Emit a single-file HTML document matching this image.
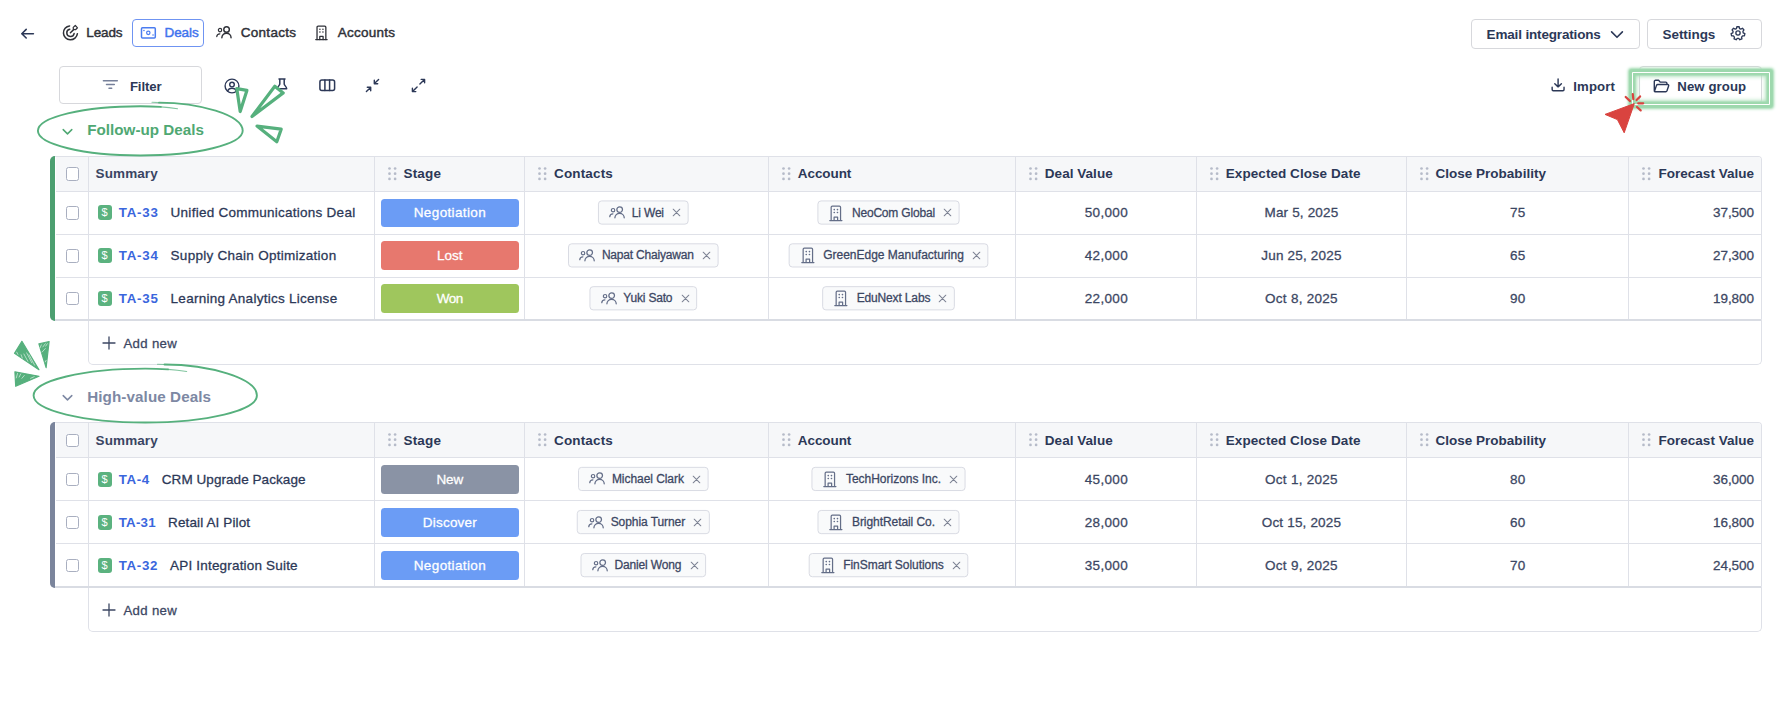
<!DOCTYPE html><html lang="en"><head><meta charset="utf-8"><title>Deals</title><style>
html,body{margin:0;padding:0;background:#fff}
body{width:1778px;height:718px;position:relative;overflow:hidden;font-family:"Liberation Sans", sans-serif;}
.t{position:absolute;white-space:nowrap;line-height:1;-webkit-text-stroke:0.280px currentColor;}
.b{-webkit-text-stroke:0}
.m{-webkit-text-stroke-width:0.450px}
.ic{position:absolute;overflow:visible}
.btn{position:absolute;box-sizing:border-box;border:1px solid #d7d8dc;border-radius:4px;background:#fff}
.tab{position:absolute;box-sizing:border-box;border:1.400px solid #6f94f2;border-radius:4px;background:#fff}
.glow{position:absolute;box-sizing:border-box;border:1.500px solid #fff;border-radius:1px;box-shadow:0 0 1.500px 2.500px #9dd8ad,0 0 3px 3.600px #a6ddb5,inset 0 0 1.500px 2.500px #9dd8ad,inset 0 0 4px 3.600px #b2e2bf;}
.tbl{position:absolute;box-sizing:border-box;border:1px solid #dfe1e8;border-bottom:2px solid #d9dce3;border-radius:5px 4px 0 5px;background:#fff}
.bar{position:absolute;width:5.800px;border-radius:5px 0 0 5px}
.thead{position:absolute;background:#f6f7f9;border-radius:0 3px 0 0}
.hl{position:absolute;height:1px;background:#dfe1e8}
.vl{position:absolute;width:1px;background:#dfe1e8}
.addnew{position:absolute;box-sizing:border-box;border:1px solid #dfe1e8;border-top:none;border-radius:0 0 5px 5px;background:#fff}
.cb{position:absolute;box-sizing:border-box;width:13.400px;height:13.400px;border:1.300px solid #a9afc0;border-radius:2.500px;background:#fff}
.badge{position:absolute;width:14px;height:14.700px;border-radius:3px;background:#5bb27f;color:#fff;font-size:11px;line-height:14.600px;text-align:center;font-weight:400}
.badge span{display:block}
.pill{position:absolute;width:138.800px;height:28.600px;border-radius:3.500px}
.chip{position:absolute;box-sizing:border-box;height:24px;border:1px solid #dfe1e8;border-radius:3.500px;background:#f9fafb}
</style></head><body><svg class="ic" style="left:20px;top:27px" width="16" height="14" viewBox="0 0 16 14" fill="none" stroke="#2c3857" stroke-width="1.6" stroke-linecap="round" stroke-linejoin="round" ><path d="M13.4 6.700H1.900M6.200 2.400 1.800 6.700l4.400 4.300"/></svg><svg class="ic" style="left:60px;top:22px" width="20" height="20" viewBox="60 22 20 20" fill="none" stroke="#2f3138" stroke-width="1.500" stroke-linecap="round" stroke-linejoin="round"><path d="M69.600 25.900A7 7 0 1 0 77.400 33.700"/><path d="M69.800 29.200A3.700 3.700 0 1 0 74.100 33.600"/><path d="M70.400 32.700 73.900 29.400"/><path d="M75.300 25.500l2.200 2.300-2 1.900-2.100-.2-.2-2.100z" stroke-width="1.200"/></svg><div class="tab" style="left:132px;top:18.500px;width:71.800px;height:28.300px"></div><svg class="ic" style="left:139px;top:25px" width="19" height="16" viewBox="139 25 19 16" fill="none" stroke="#4a7cf0" stroke-width="1.500" stroke-linecap="round" stroke-linejoin="round"><rect x="141.500" y="27.700" width="13.800" height="10.300" rx="1"/><circle cx="148.300" cy="32.850" r="1.700" stroke-width="1.200"/><path d="M143.900 30.600h.1M153 35.100h.1" stroke-width="1.500"/></svg><svg class="ic" style="left:216.3px;top:25.8px" width="15.36" height="12.48" viewBox="0 0 16 13" fill="none" stroke="#2f3138" stroke-width="1.5" stroke-linecap="round" stroke-linejoin="round" ><circle cx="11" cy="3.7" r="2.9"/><path d="M6.1 12.2c0-2.7 2.100-4.600 4.800-4.600s4.800 1.900 4.800 4.600"/><circle cx="4.200" cy="4.300" r="1.750" stroke-width="1.200"/><path d="M0.800 11c.1-1.700 1.200-2.800 3.200-2.900" stroke-width="1.300"/></svg><svg class="ic" style="left:315.2px;top:25.1px" width="12.88" height="15.64" viewBox="0 0 14 17" fill="none" stroke="#2f3138" stroke-width="1.4" stroke-linecap="round" stroke-linejoin="round" ><path d="M2.2 15.8V2.4c0-.7.5-1.2 1.2-1.2h7.2c.7 0 1.2.5 1.2 1.2v13.4"/><path d="M0.8 15.9h12.4"/><path d="M5.2 15.8v-3.4h3.6v3.4"/><path d="M5.300 4.700h.1M8.600 4.700h.1M5.300 7.600h.1M8.600 7.600h.1" stroke-width="1.600"/></svg><div class="btn" style="left:1470.5px;top:18.8px;width:169px;height:30px"></div><svg class="ic" style="left:1610px;top:30px" width="15" height="9.5" viewBox="0 0 15 9.5" fill="none" stroke="#2c3857" stroke-width="1.6" stroke-linecap="round" stroke-linejoin="round" ><path d="M1.600 1.900 7 7.300l5.400-5.400"/></svg><div class="btn" style="left:1647.4px;top:18.8px;width:114.3px;height:30px"></div><svg class="ic" style="left:1730.4px;top:25.2px" width="16" height="16" viewBox="0 0 24 24" fill="none" stroke="#2c3857" stroke-width="2.0" stroke-linecap="round" stroke-linejoin="round" ><circle cx="12" cy="12" r="3.2"/><path d="M10.3 2.6h3.4l.6 2.7 1.9.9 2.5-1.3 2.2 2.5-1.5 2.3.4 2.1 2.5 1.2-.7 3.2-2.8.2-1.4 1.7.5 2.7-3.1 1.3-1.8-2.1h-2l-1.8 2.1-3.1-1.3.5-2.7-1.4-1.7-2.8-.2-.7-3.2 2.5-1.2.4-2.1-1.5-2.3 2.2-2.5 2.5 1.300 1.9-.9z"/></svg><div class="btn" style="left:59px;top:66px;width:142.5px;height:38px"></div><svg class="ic" style="left:102px;top:79px" width="17" height="11" viewBox="0 0 17 11" fill="none" stroke="#76809a" stroke-width="1.5" stroke-linecap="round" stroke-linejoin="round" ><path d="M1.400 1.700h13.900M4.500 5.400h7.800M7 9.250h2.700"/></svg><svg class="ic" style="left:224px;top:77.5px" width="16" height="16" viewBox="0 0 16 16" fill="none" stroke="#2c3857" stroke-width="1.4" stroke-linecap="round" stroke-linejoin="round" ><circle cx="8" cy="8" r="6.900"/><circle cx="8" cy="6.600" r="2.300"/><path d="M3.600 13.100c.8-1.900 2.400-2.900 4.400-2.900s3.600 1 4.400 2.900"/></svg><svg class="ic" style="left:275.7px;top:77.6px" width="12" height="12.5" viewBox="0 0 12 12.5" fill="none" stroke="#2c3857" stroke-width="1.5" stroke-linecap="round" stroke-linejoin="round" ><path d="M3 1.100h6M3.800 1.300v4.700c0 1.500-2.300 2.400-2.500 4.700h9.400c-.2-2.300-2.500-3.200-2.500-4.700V1.300"/></svg><svg class="ic" style="left:319px;top:78.9px" width="16.5" height="12.5" viewBox="0 0 16.500 12.500" fill="none" stroke="#2c3857" stroke-width="1.5" stroke-linecap="round" stroke-linejoin="round" ><rect x="0.9" y="0.9" width="14.700" height="10.700" rx="2"/><path d="M5.900 1v10.500M10.600 1v10.500"/></svg><svg class="ic" style="left:364.9px;top:77.8px" width="15" height="15" viewBox="0 0 15 15" fill="none" stroke="#2c3857" stroke-width="1.4" stroke-linecap="round" stroke-linejoin="round" ><path d="M13.600 1.400 9.400 5.600M9.300 2.300v3.400h3.400M1.400 13.600l4.200-4.200M5.700 12.700V9.300H2.300"/></svg><svg class="ic" style="left:411.2px;top:77.8px" width="15" height="15" viewBox="0 0 15 15" fill="none" stroke="#2c3857" stroke-width="1.4" stroke-linecap="round" stroke-linejoin="round" ><path d="M8.900 6.100 13.500 1.500M10.200 1.400h3.400v3.400M6.100 8.900 1.500 13.500M1.400 10.200v3.400h3.400"/></svg><svg class="ic" style="left:1550.9px;top:78.1px" width="14.2" height="13.7" viewBox="0 0 15 14.500" fill="none" stroke="#2c3857" stroke-width="1.5" stroke-linecap="round" stroke-linejoin="round" ><path d="M7.500 1v8.200M4 6l3.500 3.400L11 6M1.200 9.700v2.600c0 .7.500 1.200 1.200 1.200h10.200c.7 0 1.200-.5 1.200-1.200V9.700"/></svg><div class="btn" style="left:1639px;top:66px;width:122.700px;height:38px"></div><div class="glow" style="left:1632px;top:71.600px;width:138.300px;height:33.200px"></div><svg class="ic" style="left:1653.2px;top:78.5px" width="17" height="14" viewBox="0 0 17 14" fill="none" stroke="#2c3857" stroke-width="1.4" stroke-linecap="round" stroke-linejoin="round" ><path d="M1.300 11.600V2.500c0-.7.500-1.200 1.200-1.200h3.100l1.600 1.800h5.500c.7 0 1.200.5 1.200 1.200v1.100"/><path d="M1.400 12.600 3.500 6.400c.2-.5.600-.9 1.200-.9h9.900c.8 0 1.300.7 1 1.500l-1.600 4.800c-.2.500-.6.900-1.200.9H2.400c-.6 0-1.100-.4-1-.1z"/></svg><svg class="ic" style="left:1598px;top:84px" width="52" height="54" viewBox="1598 84 52 54"><path d="M1634.300 103.600 1605 114.400l12.400 5.200 6.800 13.200z" fill="#d9433f" stroke="#d9433f" stroke-width="1" stroke-linejoin="round"/><g stroke="#d9433f" stroke-width="2.200" stroke-linecap="round"><path d="M1625.700 97l4.400 4.100"/><path d="M1632.800 94.100l.5 5"/><path d="M1640.100 96.400l-3.500 3.700"/><path d="M1638.200 103.300h5"/><path d="M1637 107l3.700 3.400"/></g></svg><svg class="ic" style="left:61.6px;top:127.7px" width="11" height="8" viewBox="0 0 11 8" fill="none" stroke="#4fa873" stroke-width="1.5" stroke-linecap="round" stroke-linejoin="round" ><path d="M1.200 1.600 5.500 5.900l4.300-4.300"/></svg><svg class="ic" style="left:61.6px;top:394.1px" width="11" height="8" viewBox="0 0 11 8" fill="none" stroke="#7d88a3" stroke-width="1.5" stroke-linecap="round" stroke-linejoin="round" ><path d="M1.200 1.600 5.500 5.900l4.300-4.300"/></svg><div class="tbl" style="left:50px;top:155.80px;width:1712px;height:165.25px"></div><div class="bar" style="left:49.700px;top:155.80px;height:165.05px;background:#4c9f70"></div><div class="thead" style="left:55.500px;top:156.80px;width:1705.5px;height:34.65px"></div><div class="hl" style="left:55.500px;top:190.95px;width:1706.0px"></div><div class="hl" style="left:55.500px;top:233.82px;width:1706.0px"></div><div class="hl" style="left:55.500px;top:276.68px;width:1706.0px"></div><div class="vl" style="left:88.00px;top:156.80px;height:162.25px"></div><div class="vl" style="left:373.80px;top:156.80px;height:162.25px"></div><div class="vl" style="left:523.90px;top:156.80px;height:162.25px"></div><div class="vl" style="left:767.70px;top:156.80px;height:162.25px"></div><div class="vl" style="left:1015.00px;top:156.80px;height:162.25px"></div><div class="vl" style="left:1195.80px;top:156.80px;height:162.25px"></div><div class="vl" style="left:1405.80px;top:156.80px;height:162.25px"></div><div class="vl" style="left:1628.00px;top:156.80px;height:162.25px"></div><div class="addnew" style="left:87.800px;top:321.05px;width:1674.2px;height:43.900px"></div><svg class="ic" style="left:102.4px;top:336.05px" width="14" height="14" viewBox="0 0 14 14" fill="none" stroke="#3c4763" stroke-width="1.3" stroke-linecap="round" stroke-linejoin="round" ><path d="M7 1v12M1 7h12"/></svg><div class="cb" style="left:65.500px;top:167.275px"></div><svg class="ic" style="left:387.7px;top:167.075px" width="9" height="14" viewBox="0 0 9 14" fill="#b6bbc9"><circle cx="1.5" cy="1.5" r="1.350"/><circle cx="1.5" cy="6.7" r="1.350"/><circle cx="1.5" cy="11.9" r="1.350"/><circle cx="7.1" cy="1.5" r="1.350"/><circle cx="7.1" cy="6.7" r="1.350"/><circle cx="7.1" cy="11.9" r="1.350"/></svg><svg class="ic" style="left:537.7px;top:167.075px" width="9" height="14" viewBox="0 0 9 14" fill="#b6bbc9"><circle cx="1.5" cy="1.5" r="1.350"/><circle cx="1.5" cy="6.7" r="1.350"/><circle cx="1.5" cy="11.9" r="1.350"/><circle cx="7.1" cy="1.5" r="1.350"/><circle cx="7.1" cy="6.7" r="1.350"/><circle cx="7.1" cy="11.9" r="1.350"/></svg><svg class="ic" style="left:781.5px;top:167.075px" width="9" height="14" viewBox="0 0 9 14" fill="#b6bbc9"><circle cx="1.5" cy="1.5" r="1.350"/><circle cx="1.5" cy="6.7" r="1.350"/><circle cx="1.5" cy="11.9" r="1.350"/><circle cx="7.1" cy="1.5" r="1.350"/><circle cx="7.1" cy="6.7" r="1.350"/><circle cx="7.1" cy="11.9" r="1.350"/></svg><svg class="ic" style="left:1028.7px;top:167.075px" width="9" height="14" viewBox="0 0 9 14" fill="#b6bbc9"><circle cx="1.5" cy="1.5" r="1.350"/><circle cx="1.5" cy="6.7" r="1.350"/><circle cx="1.5" cy="11.9" r="1.350"/><circle cx="7.1" cy="1.5" r="1.350"/><circle cx="7.1" cy="6.7" r="1.350"/><circle cx="7.1" cy="11.9" r="1.350"/></svg><svg class="ic" style="left:1209.6px;top:167.075px" width="9" height="14" viewBox="0 0 9 14" fill="#b6bbc9"><circle cx="1.5" cy="1.5" r="1.350"/><circle cx="1.5" cy="6.7" r="1.350"/><circle cx="1.5" cy="11.9" r="1.350"/><circle cx="7.1" cy="1.5" r="1.350"/><circle cx="7.1" cy="6.7" r="1.350"/><circle cx="7.1" cy="11.9" r="1.350"/></svg><svg class="ic" style="left:1419.6px;top:167.075px" width="9" height="14" viewBox="0 0 9 14" fill="#b6bbc9"><circle cx="1.5" cy="1.5" r="1.350"/><circle cx="1.5" cy="6.7" r="1.350"/><circle cx="1.5" cy="11.9" r="1.350"/><circle cx="7.1" cy="1.5" r="1.350"/><circle cx="7.1" cy="6.7" r="1.350"/><circle cx="7.1" cy="11.9" r="1.350"/></svg><svg class="ic" style="left:1642.2px;top:167.075px" width="9" height="14" viewBox="0 0 9 14" fill="#b6bbc9"><circle cx="1.5" cy="1.5" r="1.350"/><circle cx="1.5" cy="6.7" r="1.350"/><circle cx="1.5" cy="11.9" r="1.350"/><circle cx="7.1" cy="1.5" r="1.350"/><circle cx="7.1" cy="6.7" r="1.350"/><circle cx="7.1" cy="11.9" r="1.350"/></svg><div class="cb" style="left:65.500px;top:206.28333333333336px"></div><div class="badge" style="left:97.600px;top:205.43px"><span>$</span></div><div class="pill" style="left:380.500px;top:198.58px;background:#6b9cf5"></div><svg class="ic" style="left:596px;top:199px" width="94" height="27" viewBox="596 199 94 27"><rect x="598.45" y="200.93" width="89.70" height="23.20" rx="3.2" fill="#f9fafb" stroke="#d9dbe3" stroke-width="1"/></svg><svg class="ic" style="left:609.05px;top:205.98333333333335px" width="15.52" height="12.61" viewBox="0 0 16 13" fill="none" stroke="#646e88" stroke-width="1.3" stroke-linecap="round" stroke-linejoin="round" ><circle cx="11" cy="3.7" r="2.9"/><path d="M6.1 12.2c0-2.7 2.100-4.600 4.800-4.600s4.800 1.900 4.800 4.600"/><circle cx="4.200" cy="4.300" r="1.750" stroke-width="1.200"/><path d="M0.800 11c.1-1.700 1.200-2.800 3.200-2.900" stroke-width="1.300"/></svg><svg class="ic" style="left:672.05px;top:208.38333333333335px" width="9" height="9" viewBox="0 0 9 9" fill="none" stroke="#7d8394" stroke-width="1.05" stroke-linecap="round" stroke-linejoin="round" ><path d="M1.200 1.200l6.600 6.600M7.800 1.200 1.200 7.800"/></svg><svg class="ic" style="left:816px;top:199px" width="145" height="27" viewBox="816 199 145 27"><rect x="817.90" y="200.93" width="141.20" height="23.20" rx="3.2" fill="#f9fafb" stroke="#d9dbe3" stroke-width="1"/></svg><svg class="ic" style="left:829.25px;top:204.53333333333336px" width="13.719999999999999" height="16.66" viewBox="0 0 14 17" fill="none" stroke="#646e88" stroke-width="1.25" stroke-linecap="round" stroke-linejoin="round" ><path d="M2.2 15.8V2.4c0-.7.5-1.2 1.2-1.2h7.2c.7 0 1.2.5 1.2 1.2v13.4"/><path d="M0.8 15.9h12.4"/><path d="M5.2 15.8v-3.4h3.6v3.4"/><path d="M5.300 4.700h.1M8.600 4.700h.1M5.300 7.600h.1M8.600 7.600h.1" stroke-width="1.600"/></svg><svg class="ic" style="left:942.9999999999999px;top:208.38333333333335px" width="9" height="9" viewBox="0 0 9 9" fill="none" stroke="#7d8394" stroke-width="1.05" stroke-linecap="round" stroke-linejoin="round" ><path d="M1.200 1.200l6.600 6.600M7.800 1.200 1.200 7.800"/></svg><div class="cb" style="left:65.500px;top:249.15000000000003px"></div><div class="badge" style="left:97.600px;top:248.30px"><span>$</span></div><div class="pill" style="left:380.500px;top:241.45px;background:#e7786e"></div><svg class="ic" style="left:567px;top:242px" width="153" height="27" viewBox="567 242 153 27"><rect x="568.50" y="243.80" width="149.60" height="23.20" rx="3.2" fill="#f9fafb" stroke="#d9dbe3" stroke-width="1"/></svg><svg class="ic" style="left:579.1px;top:248.85000000000002px" width="15.52" height="12.61" viewBox="0 0 16 13" fill="none" stroke="#646e88" stroke-width="1.3" stroke-linecap="round" stroke-linejoin="round" ><circle cx="11" cy="3.7" r="2.9"/><path d="M6.1 12.2c0-2.7 2.100-4.600 4.800-4.600s4.800 1.900 4.800 4.600"/><circle cx="4.200" cy="4.300" r="1.750" stroke-width="1.200"/><path d="M0.800 11c.1-1.700 1.200-2.800 3.200-2.900" stroke-width="1.300"/></svg><svg class="ic" style="left:702.0px;top:251.25000000000003px" width="9" height="9" viewBox="0 0 9 9" fill="none" stroke="#7d8394" stroke-width="1.05" stroke-linecap="round" stroke-linejoin="round" ><path d="M1.200 1.200l6.600 6.600M7.800 1.200 1.200 7.800"/></svg><svg class="ic" style="left:787px;top:242px" width="203" height="27" viewBox="787 242 203 27"><rect x="789.15" y="243.80" width="198.70" height="23.20" rx="3.2" fill="#f9fafb" stroke="#d9dbe3" stroke-width="1"/></svg><svg class="ic" style="left:800.5px;top:247.40000000000003px" width="13.719999999999999" height="16.66" viewBox="0 0 14 17" fill="none" stroke="#646e88" stroke-width="1.25" stroke-linecap="round" stroke-linejoin="round" ><path d="M2.2 15.8V2.4c0-.7.5-1.2 1.2-1.2h7.2c.7 0 1.2.5 1.2 1.2v13.4"/><path d="M0.8 15.9h12.4"/><path d="M5.2 15.8v-3.4h3.6v3.4"/><path d="M5.300 4.700h.1M8.600 4.700h.1M5.300 7.600h.1M8.600 7.600h.1" stroke-width="1.600"/></svg><svg class="ic" style="left:971.7499999999999px;top:251.25000000000003px" width="9" height="9" viewBox="0 0 9 9" fill="none" stroke="#7d8394" stroke-width="1.05" stroke-linecap="round" stroke-linejoin="round" ><path d="M1.200 1.200l6.600 6.600M7.800 1.200 1.200 7.800"/></svg><div class="cb" style="left:65.500px;top:292.01666666666665px"></div><div class="badge" style="left:97.600px;top:291.17px"><span>$</span></div><div class="pill" style="left:380.500px;top:284.32px;background:#9fc65d"></div><svg class="ic" style="left:588px;top:285px" width="111" height="27" viewBox="588 285 111 27"><rect x="589.95" y="286.67" width="106.70" height="23.20" rx="3.2" fill="#f9fafb" stroke="#d9dbe3" stroke-width="1"/></svg><svg class="ic" style="left:600.55px;top:291.7166666666667px" width="15.52" height="12.61" viewBox="0 0 16 13" fill="none" stroke="#646e88" stroke-width="1.3" stroke-linecap="round" stroke-linejoin="round" ><circle cx="11" cy="3.7" r="2.9"/><path d="M6.1 12.2c0-2.7 2.100-4.600 4.800-4.600s4.800 1.900 4.800 4.600"/><circle cx="4.200" cy="4.300" r="1.750" stroke-width="1.200"/><path d="M0.800 11c.1-1.700 1.200-2.800 3.200-2.900" stroke-width="1.300"/></svg><svg class="ic" style="left:680.55px;top:294.1166666666667px" width="9" height="9" viewBox="0 0 9 9" fill="none" stroke="#7d8394" stroke-width="1.05" stroke-linecap="round" stroke-linejoin="round" ><path d="M1.200 1.200l6.600 6.600M7.800 1.200 1.200 7.800"/></svg><svg class="ic" style="left:821px;top:285px" width="135" height="27" viewBox="821 285 135 27"><rect x="822.65" y="286.67" width="131.70" height="23.20" rx="3.2" fill="#f9fafb" stroke="#d9dbe3" stroke-width="1"/></svg><svg class="ic" style="left:834.0px;top:290.26666666666665px" width="13.719999999999999" height="16.66" viewBox="0 0 14 17" fill="none" stroke="#646e88" stroke-width="1.25" stroke-linecap="round" stroke-linejoin="round" ><path d="M2.2 15.8V2.4c0-.7.5-1.2 1.2-1.2h7.2c.7 0 1.2.5 1.2 1.2v13.4"/><path d="M0.8 15.9h12.4"/><path d="M5.2 15.8v-3.4h3.6v3.4"/><path d="M5.300 4.700h.1M8.600 4.700h.1M5.300 7.600h.1M8.600 7.600h.1" stroke-width="1.600"/></svg><svg class="ic" style="left:938.2499999999999px;top:294.1166666666667px" width="9" height="9" viewBox="0 0 9 9" fill="none" stroke="#7d8394" stroke-width="1.05" stroke-linecap="round" stroke-linejoin="round" ><path d="M1.200 1.200l6.600 6.600M7.800 1.200 1.200 7.800"/></svg><div class="tbl" style="left:50px;top:422.10px;width:1712px;height:165.95px"></div><div class="bar" style="left:49.700px;top:422.10px;height:165.75px;background:#7b859c"></div><div class="thead" style="left:55.500px;top:423.10px;width:1705.5px;height:34.65px"></div><div class="hl" style="left:55.500px;top:457.25px;width:1706.0px"></div><div class="hl" style="left:55.500px;top:500.35px;width:1706.0px"></div><div class="hl" style="left:55.500px;top:543.45px;width:1706.0px"></div><div class="vl" style="left:88.00px;top:423.10px;height:162.95px"></div><div class="vl" style="left:373.80px;top:423.10px;height:162.95px"></div><div class="vl" style="left:523.90px;top:423.10px;height:162.95px"></div><div class="vl" style="left:767.70px;top:423.10px;height:162.95px"></div><div class="vl" style="left:1015.00px;top:423.10px;height:162.95px"></div><div class="vl" style="left:1195.80px;top:423.10px;height:162.95px"></div><div class="vl" style="left:1405.80px;top:423.10px;height:162.95px"></div><div class="vl" style="left:1628.00px;top:423.10px;height:162.95px"></div><div class="addnew" style="left:87.800px;top:588.05px;width:1674.2px;height:43.900px"></div><svg class="ic" style="left:102.4px;top:603.05px" width="14" height="14" viewBox="0 0 14 14" fill="none" stroke="#3c4763" stroke-width="1.3" stroke-linecap="round" stroke-linejoin="round" ><path d="M7 1v12M1 7h12"/></svg><div class="cb" style="left:65.500px;top:433.575px"></div><svg class="ic" style="left:387.7px;top:433.375px" width="9" height="14" viewBox="0 0 9 14" fill="#b6bbc9"><circle cx="1.5" cy="1.5" r="1.350"/><circle cx="1.5" cy="6.7" r="1.350"/><circle cx="1.5" cy="11.9" r="1.350"/><circle cx="7.1" cy="1.5" r="1.350"/><circle cx="7.1" cy="6.7" r="1.350"/><circle cx="7.1" cy="11.9" r="1.350"/></svg><svg class="ic" style="left:537.7px;top:433.375px" width="9" height="14" viewBox="0 0 9 14" fill="#b6bbc9"><circle cx="1.5" cy="1.5" r="1.350"/><circle cx="1.5" cy="6.7" r="1.350"/><circle cx="1.5" cy="11.9" r="1.350"/><circle cx="7.1" cy="1.5" r="1.350"/><circle cx="7.1" cy="6.7" r="1.350"/><circle cx="7.1" cy="11.9" r="1.350"/></svg><svg class="ic" style="left:781.5px;top:433.375px" width="9" height="14" viewBox="0 0 9 14" fill="#b6bbc9"><circle cx="1.5" cy="1.5" r="1.350"/><circle cx="1.5" cy="6.7" r="1.350"/><circle cx="1.5" cy="11.9" r="1.350"/><circle cx="7.1" cy="1.5" r="1.350"/><circle cx="7.1" cy="6.7" r="1.350"/><circle cx="7.1" cy="11.9" r="1.350"/></svg><svg class="ic" style="left:1028.7px;top:433.375px" width="9" height="14" viewBox="0 0 9 14" fill="#b6bbc9"><circle cx="1.5" cy="1.5" r="1.350"/><circle cx="1.5" cy="6.7" r="1.350"/><circle cx="1.5" cy="11.9" r="1.350"/><circle cx="7.1" cy="1.5" r="1.350"/><circle cx="7.1" cy="6.7" r="1.350"/><circle cx="7.1" cy="11.9" r="1.350"/></svg><svg class="ic" style="left:1209.6px;top:433.375px" width="9" height="14" viewBox="0 0 9 14" fill="#b6bbc9"><circle cx="1.5" cy="1.5" r="1.350"/><circle cx="1.5" cy="6.7" r="1.350"/><circle cx="1.5" cy="11.9" r="1.350"/><circle cx="7.1" cy="1.5" r="1.350"/><circle cx="7.1" cy="6.7" r="1.350"/><circle cx="7.1" cy="11.9" r="1.350"/></svg><svg class="ic" style="left:1419.6px;top:433.375px" width="9" height="14" viewBox="0 0 9 14" fill="#b6bbc9"><circle cx="1.5" cy="1.5" r="1.350"/><circle cx="1.5" cy="6.7" r="1.350"/><circle cx="1.5" cy="11.9" r="1.350"/><circle cx="7.1" cy="1.5" r="1.350"/><circle cx="7.1" cy="6.7" r="1.350"/><circle cx="7.1" cy="11.9" r="1.350"/></svg><svg class="ic" style="left:1642.2px;top:433.375px" width="9" height="14" viewBox="0 0 9 14" fill="#b6bbc9"><circle cx="1.5" cy="1.5" r="1.350"/><circle cx="1.5" cy="6.7" r="1.350"/><circle cx="1.5" cy="11.9" r="1.350"/><circle cx="7.1" cy="1.5" r="1.350"/><circle cx="7.1" cy="6.7" r="1.350"/><circle cx="7.1" cy="11.9" r="1.350"/></svg><div class="cb" style="left:65.500px;top:472.7px"></div><div class="badge" style="left:97.600px;top:471.85px"><span>$</span></div><div class="pill" style="left:380.500px;top:465.00px;background:#8a93a5"></div><svg class="ic" style="left:577px;top:465px" width="133" height="28" viewBox="577 465 133 28"><rect x="578.50" y="467.35" width="129.60" height="23.20" rx="3.2" fill="#f9fafb" stroke="#d9dbe3" stroke-width="1"/></svg><svg class="ic" style="left:589.1px;top:472.40000000000003px" width="15.52" height="12.61" viewBox="0 0 16 13" fill="none" stroke="#646e88" stroke-width="1.3" stroke-linecap="round" stroke-linejoin="round" ><circle cx="11" cy="3.7" r="2.9"/><path d="M6.1 12.2c0-2.7 2.100-4.600 4.800-4.600s4.800 1.900 4.800 4.600"/><circle cx="4.200" cy="4.300" r="1.750" stroke-width="1.200"/><path d="M0.800 11c.1-1.700 1.200-2.800 3.200-2.900" stroke-width="1.300"/></svg><svg class="ic" style="left:692.0px;top:474.8px" width="9" height="9" viewBox="0 0 9 9" fill="none" stroke="#7d8394" stroke-width="1.05" stroke-linecap="round" stroke-linejoin="round" ><path d="M1.200 1.200l6.600 6.600M7.800 1.200 1.200 7.800"/></svg><svg class="ic" style="left:810px;top:465px" width="157" height="28" viewBox="810 465 157 28"><rect x="811.95" y="467.35" width="153.10" height="23.20" rx="3.2" fill="#f9fafb" stroke="#d9dbe3" stroke-width="1"/></svg><svg class="ic" style="left:823.3000000000001px;top:470.95px" width="13.719999999999999" height="16.66" viewBox="0 0 14 17" fill="none" stroke="#646e88" stroke-width="1.25" stroke-linecap="round" stroke-linejoin="round" ><path d="M2.2 15.8V2.4c0-.7.5-1.2 1.2-1.2h7.2c.7 0 1.2.5 1.2 1.2v13.4"/><path d="M0.8 15.9h12.4"/><path d="M5.2 15.8v-3.4h3.6v3.4"/><path d="M5.300 4.700h.1M8.600 4.700h.1M5.300 7.600h.1M8.600 7.600h.1" stroke-width="1.600"/></svg><svg class="ic" style="left:948.95px;top:474.8px" width="9" height="9" viewBox="0 0 9 9" fill="none" stroke="#7d8394" stroke-width="1.05" stroke-linecap="round" stroke-linejoin="round" ><path d="M1.200 1.200l6.600 6.600M7.800 1.200 1.200 7.800"/></svg><div class="cb" style="left:65.500px;top:515.8px"></div><div class="badge" style="left:97.600px;top:514.95px"><span>$</span></div><div class="pill" style="left:380.500px;top:508.10px;background:#6b9cf5"></div><svg class="ic" style="left:575px;top:508px" width="136" height="28" viewBox="575 508 136 28"><rect x="577.25" y="510.45" width="132.10" height="23.20" rx="3.2" fill="#f9fafb" stroke="#d9dbe3" stroke-width="1"/></svg><svg class="ic" style="left:587.85px;top:515.5px" width="15.52" height="12.61" viewBox="0 0 16 13" fill="none" stroke="#646e88" stroke-width="1.3" stroke-linecap="round" stroke-linejoin="round" ><circle cx="11" cy="3.7" r="2.9"/><path d="M6.1 12.2c0-2.7 2.100-4.600 4.800-4.600s4.800 1.900 4.800 4.600"/><circle cx="4.200" cy="4.300" r="1.750" stroke-width="1.200"/><path d="M0.800 11c.1-1.700 1.200-2.800 3.200-2.900" stroke-width="1.300"/></svg><svg class="ic" style="left:693.25px;top:517.9px" width="9" height="9" viewBox="0 0 9 9" fill="none" stroke="#7d8394" stroke-width="1.05" stroke-linecap="round" stroke-linejoin="round" ><path d="M1.200 1.200l6.600 6.600M7.800 1.200 1.200 7.800"/></svg><svg class="ic" style="left:816px;top:508px" width="145" height="28" viewBox="816 508 145 28"><rect x="818.00" y="510.45" width="141.00" height="23.20" rx="3.2" fill="#f9fafb" stroke="#d9dbe3" stroke-width="1"/></svg><svg class="ic" style="left:829.35px;top:514.05px" width="13.719999999999999" height="16.66" viewBox="0 0 14 17" fill="none" stroke="#646e88" stroke-width="1.25" stroke-linecap="round" stroke-linejoin="round" ><path d="M2.2 15.8V2.4c0-.7.5-1.2 1.2-1.2h7.2c.7 0 1.2.5 1.2 1.2v13.4"/><path d="M0.8 15.9h12.4"/><path d="M5.2 15.8v-3.4h3.6v3.4"/><path d="M5.300 4.700h.1M8.600 4.700h.1M5.300 7.600h.1M8.600 7.600h.1" stroke-width="1.600"/></svg><svg class="ic" style="left:942.9px;top:517.9px" width="9" height="9" viewBox="0 0 9 9" fill="none" stroke="#7d8394" stroke-width="1.05" stroke-linecap="round" stroke-linejoin="round" ><path d="M1.200 1.200l6.600 6.600M7.800 1.200 1.200 7.800"/></svg><div class="cb" style="left:65.500px;top:558.8999999999999px"></div><div class="badge" style="left:97.600px;top:558.05px"><span>$</span></div><div class="pill" style="left:380.500px;top:551.20px;background:#6b9cf5"></div><svg class="ic" style="left:579px;top:552px" width="129" height="27" viewBox="579 552 129 27"><rect x="581.00" y="553.55" width="124.60" height="23.20" rx="3.2" fill="#f9fafb" stroke="#d9dbe3" stroke-width="1"/></svg><svg class="ic" style="left:591.6px;top:558.5999999999999px" width="15.52" height="12.61" viewBox="0 0 16 13" fill="none" stroke="#646e88" stroke-width="1.3" stroke-linecap="round" stroke-linejoin="round" ><circle cx="11" cy="3.7" r="2.9"/><path d="M6.1 12.2c0-2.7 2.100-4.600 4.800-4.600s4.800 1.900 4.800 4.600"/><circle cx="4.200" cy="4.300" r="1.750" stroke-width="1.200"/><path d="M0.800 11c.1-1.700 1.200-2.800 3.200-2.900" stroke-width="1.300"/></svg><svg class="ic" style="left:689.5px;top:560.9999999999999px" width="9" height="9" viewBox="0 0 9 9" fill="none" stroke="#7d8394" stroke-width="1.05" stroke-linecap="round" stroke-linejoin="round" ><path d="M1.200 1.200l6.600 6.600M7.800 1.200 1.200 7.800"/></svg><svg class="ic" style="left:807px;top:552px" width="163" height="27" viewBox="807 552 163 27"><rect x="809.20" y="553.55" width="158.60" height="23.20" rx="3.2" fill="#f9fafb" stroke="#d9dbe3" stroke-width="1"/></svg><svg class="ic" style="left:820.5500000000001px;top:557.1499999999999px" width="13.719999999999999" height="16.66" viewBox="0 0 14 17" fill="none" stroke="#646e88" stroke-width="1.25" stroke-linecap="round" stroke-linejoin="round" ><path d="M2.2 15.8V2.4c0-.7.5-1.2 1.2-1.2h7.2c.7 0 1.2.5 1.2 1.2v13.4"/><path d="M0.8 15.9h12.4"/><path d="M5.2 15.8v-3.4h3.6v3.4"/><path d="M5.300 4.700h.1M8.600 4.700h.1M5.300 7.600h.1M8.600 7.600h.1" stroke-width="1.600"/></svg><svg class="ic" style="left:951.7px;top:560.9999999999999px" width="9" height="9" viewBox="0 0 9 9" fill="none" stroke="#7d8394" stroke-width="1.05" stroke-linecap="round" stroke-linejoin="round" ><path d="M1.200 1.200l6.600 6.600M7.800 1.200 1.200 7.800"/></svg><span class="t m" style="left:86.30px;top:26.37px;font-size:13.5px;color:#2f3138;letter-spacing:-0.133px;">Leads</span><span class="t m" style="left:164.50px;top:26.37px;font-size:13.5px;color:#3f73ee;letter-spacing:-0.070px;">Deals</span><span class="t m" style="left:240.80px;top:26.37px;font-size:13.5px;color:#2f3138;letter-spacing:0.269px;">Contacts</span><span class="t m" style="left:337.70px;top:26.37px;font-size:13.5px;color:#2f3138;letter-spacing:0.249px;">Accounts</span><span class="t b" style="left:1486.60px;top:27.87px;font-size:13.5px;font-weight:700;color:#2c3857;letter-spacing:-0.162px;">Email integrations</span><span class="t b" style="left:1662.50px;top:27.87px;font-size:13.5px;font-weight:700;color:#2c3857;letter-spacing:-0.062px;">Settings</span><span class="t b" style="left:129.90px;top:79.73px;font-size:13.2px;font-weight:700;color:#2c3857;letter-spacing:-0.100px;">Filter</span><span class="t b" style="left:1573.30px;top:79.73px;font-size:13.2px;font-weight:700;color:#2c3857;letter-spacing:0.122px;">Import</span><span class="t b" style="left:1677.30px;top:79.73px;font-size:13.2px;font-weight:700;color:#2c3857;letter-spacing:0.089px;">New group</span><span class="t b" style="left:87.20px;top:122.33px;font-size:15.2px;font-weight:700;color:#4fa873;letter-spacing:0.024px;">Follow-up Deals</span><span class="t b" style="left:87.20px;top:389.03px;font-size:15.2px;font-weight:700;color:#7d88a3;letter-spacing:0.097px;">High-value Deals</span><span class="t" style="left:123.40px;top:337.48px;font-size:13.2px;color:#3c4763;letter-spacing:0.350px;">Add new</span><span class="t b" style="left:95.60px;top:167.45px;font-size:13.5px;font-weight:700;color:#3a4563;letter-spacing:0.103px;">Summary</span><span class="t b" style="left:403.50px;top:167.45px;font-size:13.5px;font-weight:700;color:#2c3857;letter-spacing:0.163px;">Stage</span><span class="t b" style="left:554.00px;top:167.45px;font-size:13.5px;font-weight:700;color:#2c3857;letter-spacing:0.151px;">Contacts</span><span class="t b" style="left:797.80px;top:167.45px;font-size:13.5px;font-weight:700;color:#2c3857;letter-spacing:-0.077px;">Account</span><span class="t b" style="left:1044.80px;top:167.45px;font-size:13.5px;font-weight:700;color:#2c3857;letter-spacing:0.037px;">Deal Value</span><span class="t b" style="left:1225.80px;top:167.45px;font-size:13.5px;font-weight:700;color:#2c3857;letter-spacing:0.061px;">Expected Close Date</span><span class="t b" style="left:1435.40px;top:167.45px;font-size:13.5px;font-weight:700;color:#2c3857;letter-spacing:0.019px;">Close Probability</span><span class="t b" style="left:1658.50px;top:167.45px;font-size:13.5px;font-weight:700;color:#2c3857;letter-spacing:0.014px;">Forecast Value</span><span class="t b" style="left:118.70px;top:206.42px;font-size:13.3px;font-weight:700;color:#3a66dd;letter-spacing:0.807px;">TA-33</span><span class="t" style="left:170.60px;top:206.26px;font-size:13.5px;color:#2c3857;letter-spacing:0.259px;">Unified Communications Deal</span><span class="t" style="left:413.75px;top:206.26px;font-size:13.5px;color:#ffffff;letter-spacing:0.370px;">Negotiation</span><span class="t" style="left:631.85px;top:206.53px;font-size:12px;color:#3c4763;letter-spacing:-0.186px;">Li Wei</span><span class="t" style="left:851.90px;top:206.53px;font-size:12px;color:#3c4763;letter-spacing:-0.174px;">NeoCom Global</span><span class="t" style="left:1084.80px;top:206.26px;font-size:13.5px;color:#3c4763;letter-spacing:0.310px;">50,000</span><span class="t" style="left:1264.55px;top:206.26px;font-size:13.5px;color:#3c4763;letter-spacing:0.157px;">Mar 5, 2025</span><span class="t" style="left:1510.00px;top:206.26px;font-size:13.5px;color:#3c4763;letter-spacing:0.246px;">75</span><span class="t" style="left:1713.00px;top:206.26px;font-size:13.5px;color:#3c4763;letter-spacing:-0.054px;">37,500</span><span class="t b" style="left:118.70px;top:249.29px;font-size:13.3px;font-weight:700;color:#3a66dd;letter-spacing:0.807px;">TA-34</span><span class="t" style="left:170.60px;top:249.12px;font-size:13.5px;color:#2c3857;letter-spacing:0.270px;">Supply Chain Optimization</span><span class="t" style="left:437.05px;top:249.12px;font-size:13.5px;color:#ffffff;letter-spacing:0.020px;">Lost</span><span class="t" style="left:601.90px;top:249.39px;font-size:12px;color:#3c4763;letter-spacing:-0.189px;">Napat Chaiyawan</span><span class="t" style="left:823.15px;top:249.39px;font-size:12px;color:#3c4763;letter-spacing:-0.003px;">GreenEdge Manufacturing</span><span class="t" style="left:1084.80px;top:249.12px;font-size:13.5px;color:#3c4763;letter-spacing:0.310px;">42,000</span><span class="t" style="left:1261.25px;top:249.12px;font-size:13.5px;color:#3c4763;letter-spacing:0.193px;">Jun 25, 2025</span><span class="t" style="left:1510.00px;top:249.12px;font-size:13.5px;color:#3c4763;letter-spacing:0.246px;">65</span><span class="t" style="left:1713.00px;top:249.12px;font-size:13.5px;color:#3c4763;letter-spacing:-0.054px;">27,300</span><span class="t b" style="left:118.70px;top:292.16px;font-size:13.3px;font-weight:700;color:#3a66dd;letter-spacing:0.807px;">TA-35</span><span class="t" style="left:170.60px;top:291.99px;font-size:13.5px;color:#2c3857;letter-spacing:0.268px;">Learning Analytics License</span><span class="t" style="left:436.70px;top:291.99px;font-size:13.5px;color:#ffffff;letter-spacing:-0.486px;">Won</span><span class="t" style="left:623.35px;top:292.26px;font-size:12px;color:#3c4763;letter-spacing:-0.189px;">Yuki Sato</span><span class="t" style="left:856.65px;top:292.26px;font-size:12px;color:#3c4763;letter-spacing:-0.147px;">EduNext Labs</span><span class="t" style="left:1084.80px;top:291.99px;font-size:13.5px;color:#3c4763;letter-spacing:0.310px;">22,000</span><span class="t" style="left:1265.05px;top:291.99px;font-size:13.5px;color:#3c4763;letter-spacing:0.276px;">Oct 8, 2025</span><span class="t" style="left:1510.00px;top:291.99px;font-size:13.5px;color:#3c4763;letter-spacing:0.246px;">90</span><span class="t" style="left:1713.00px;top:291.99px;font-size:13.5px;color:#3c4763;letter-spacing:-0.054px;">19,800</span><span class="t" style="left:123.40px;top:604.48px;font-size:13.2px;color:#3c4763;letter-spacing:0.350px;">Add new</span><span class="t b" style="left:95.60px;top:433.75px;font-size:13.5px;font-weight:700;color:#3a4563;letter-spacing:0.103px;">Summary</span><span class="t b" style="left:403.50px;top:433.75px;font-size:13.5px;font-weight:700;color:#2c3857;letter-spacing:0.163px;">Stage</span><span class="t b" style="left:554.00px;top:433.75px;font-size:13.5px;font-weight:700;color:#2c3857;letter-spacing:0.151px;">Contacts</span><span class="t b" style="left:797.80px;top:433.75px;font-size:13.5px;font-weight:700;color:#2c3857;letter-spacing:-0.077px;">Account</span><span class="t b" style="left:1044.80px;top:433.75px;font-size:13.5px;font-weight:700;color:#2c3857;letter-spacing:0.037px;">Deal Value</span><span class="t b" style="left:1225.80px;top:433.75px;font-size:13.5px;font-weight:700;color:#2c3857;letter-spacing:0.061px;">Expected Close Date</span><span class="t b" style="left:1435.40px;top:433.75px;font-size:13.5px;font-weight:700;color:#2c3857;letter-spacing:0.019px;">Close Probability</span><span class="t b" style="left:1658.50px;top:433.75px;font-size:13.5px;font-weight:700;color:#2c3857;letter-spacing:0.014px;">Forecast Value</span><span class="t b" style="left:118.70px;top:472.84px;font-size:13.3px;font-weight:700;color:#3a66dd;letter-spacing:0.639px;">TA-4</span><span class="t" style="left:161.80px;top:472.67px;font-size:13.5px;color:#2c3857;letter-spacing:0.061px;">CRM Upgrade Package</span><span class="t" style="left:436.45px;top:472.67px;font-size:13.5px;color:#ffffff;letter-spacing:-0.086px;">New</span><span class="t" style="left:611.90px;top:472.94px;font-size:12px;color:#3c4763;letter-spacing:-0.055px;">Michael Clark</span><span class="t" style="left:845.95px;top:472.94px;font-size:12px;color:#3c4763;letter-spacing:-0.017px;">TechHorizons Inc.</span><span class="t" style="left:1084.80px;top:472.67px;font-size:13.5px;color:#3c4763;letter-spacing:0.310px;">45,000</span><span class="t" style="left:1265.05px;top:472.67px;font-size:13.5px;color:#3c4763;letter-spacing:0.276px;">Oct 1, 2025</span><span class="t" style="left:1510.00px;top:472.67px;font-size:13.5px;color:#3c4763;letter-spacing:0.246px;">80</span><span class="t" style="left:1713.00px;top:472.67px;font-size:13.5px;color:#3c4763;letter-spacing:-0.054px;">36,000</span><span class="t b" style="left:118.70px;top:515.94px;font-size:13.3px;font-weight:700;color:#3a66dd;letter-spacing:0.251px;">TA-31</span><span class="t" style="left:168.10px;top:515.77px;font-size:13.5px;color:#2c3857;letter-spacing:0.117px;">Retail AI Pilot</span><span class="t" style="left:422.80px;top:515.77px;font-size:13.5px;color:#ffffff;letter-spacing:0.211px;">Discover</span><span class="t" style="left:610.65px;top:516.04px;font-size:12px;color:#3c4763;letter-spacing:-0.071px;">Sophia Turner</span><span class="t" style="left:852.00px;top:516.04px;font-size:12px;color:#3c4763;letter-spacing:-0.068px;">BrightRetail Co.</span><span class="t" style="left:1084.80px;top:515.77px;font-size:13.5px;color:#3c4763;letter-spacing:0.310px;">28,000</span><span class="t" style="left:1261.75px;top:515.77px;font-size:13.5px;color:#3c4763;letter-spacing:0.173px;">Oct 15, 2025</span><span class="t" style="left:1510.00px;top:515.77px;font-size:13.5px;color:#3c4763;letter-spacing:0.246px;">60</span><span class="t" style="left:1713.00px;top:515.77px;font-size:13.5px;color:#3c4763;letter-spacing:-0.054px;">16,800</span><span class="t b" style="left:118.70px;top:559.04px;font-size:13.3px;font-weight:700;color:#3a66dd;letter-spacing:0.696px;">TA-32</span><span class="t" style="left:170.10px;top:558.87px;font-size:13.5px;color:#2c3857;letter-spacing:0.184px;">API Integration Suite</span><span class="t" style="left:413.75px;top:558.87px;font-size:13.5px;color:#ffffff;letter-spacing:0.370px;">Negotiation</span><span class="t" style="left:614.40px;top:559.14px;font-size:12px;color:#3c4763;letter-spacing:-0.141px;">Daniel Wong</span><span class="t" style="left:843.20px;top:559.14px;font-size:12px;color:#3c4763;letter-spacing:-0.044px;">FinSmart Solutions</span><span class="t" style="left:1084.80px;top:558.87px;font-size:13.5px;color:#3c4763;letter-spacing:0.310px;">35,000</span><span class="t" style="left:1265.05px;top:558.87px;font-size:13.5px;color:#3c4763;letter-spacing:0.276px;">Oct 9, 2025</span><span class="t" style="left:1510.00px;top:558.87px;font-size:13.5px;color:#3c4763;letter-spacing:0.246px;">70</span><span class="t" style="left:1713.00px;top:558.87px;font-size:13.5px;color:#3c4763;letter-spacing:-0.054px;">24,500</span><svg class="ic" style="left:0;top:0" width="1778" height="718" viewBox="0 0 1778 718" fill="none" stroke="#56b07d" stroke-linecap="round" stroke-linejoin="round">
<path d="M159 102.6C198.3 102.6 242.70000000000002 114.8 242.70000000000002 130.85C242.70000000000002 144.5 196.9 155.5 140.3 155.5C83.7 155.5 37.900000000000006 144.5 37.900000000000006 130.85C37.900000000000006 117.2 83.7 106.19999999999999 140.3 106.19999999999999Q150.5 106.2 160.8 106.9" stroke-width="1.900"/><path d="M160.8 106.9Q169.1 107.6 177.5 108.8" stroke-width="1.100" opacity="0.750"/><path d="M152 102.3L159 102.6" stroke-width="1.100" opacity="0.700"/>
<path d="M164.5 364.5C207.9 364.5 256.9 378.0 256.9 395.55C256.9 410.4 206.9 422.5 145.25 422.5C83.6 422.5 33.599999999999994 410.4 33.599999999999994 395.55C33.599999999999994 380.7 83.6 368.6 145.25 368.6Q156.6 368.6 168.0 369.4" stroke-width="1.900"/><path d="M168.0 369.4Q177.4 370.1 186.7 371.5" stroke-width="1.100" opacity="0.750"/><path d="M157.5 364.2L164.5 364.5" stroke-width="1.100" opacity="0.700"/>
<g stroke-width="3.200">
<path d="M236.800 88.700 246.900 90.400 240.200 111.500z"/>
<path d="M252 116.500 274.800 86.200 283.200 92.900z"/>
<path d="M257 126.100 281.200 129.200 276.800 141.800z"/>
</g>
<g fill="#56b07d" stroke-width="1.200">
<path d="M21.900 341.300 14.500 353.300 39 369.700z"/>
<path d="M38.900 343.900 49.100 341.500 46.100 367.600z"/>
<path d="M14.900 371.800 39 376.300 15.700 386.300z"/>
</g>
<g stroke="#ffffff" stroke-width="0.800" opacity="0.700">
<path d="M23.900 354l3.900 7.200M26.700 352.900l5.100 9.900M29 354.800l5.600 10.400M16.700 352.100l1.200 2.300M21.100 354.800l1.200 3.200M40.100 347.700l1.200-2.800M42.900 346.900l2.400-3.200M45.700 346.100l1.600-2.400M42.100 352.100l3.200-3.600M45.300 362l.8-1.600M16.300 377.900l1.200-4.400M19.100 377.100l1.600-3.200M21.900 378.300l2.400-2.800M30.600 378.300l3.600-1.600"/>
</g>
</svg></body></html>
